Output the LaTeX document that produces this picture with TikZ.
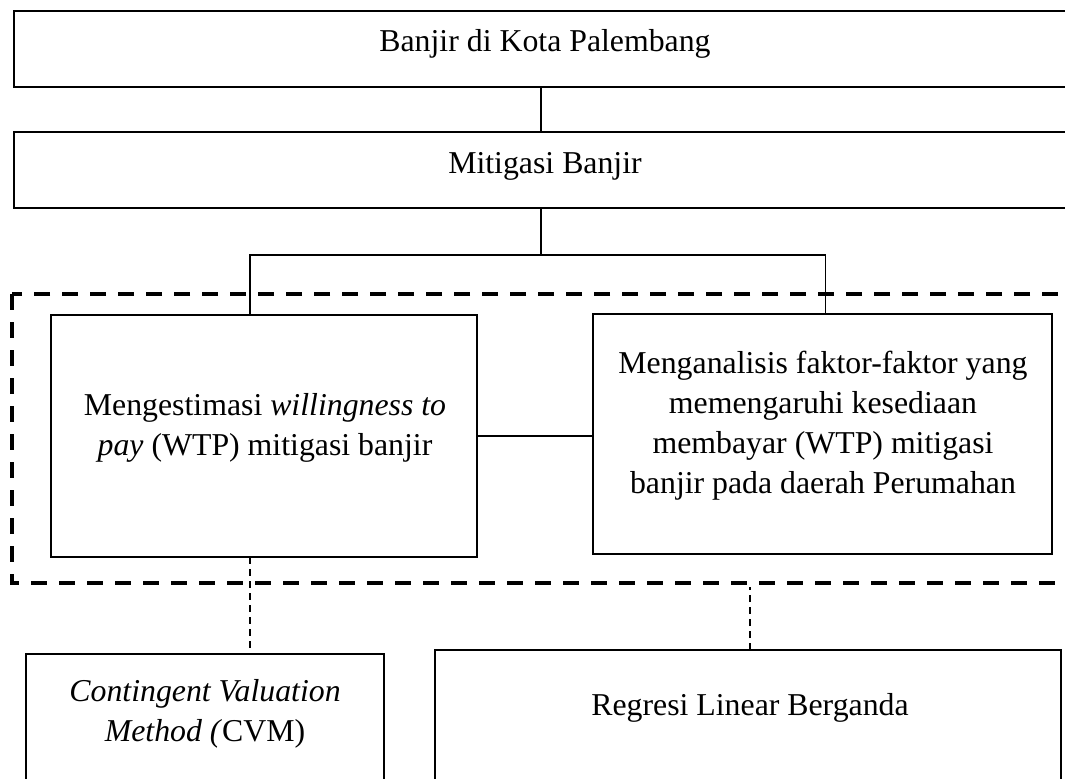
\documentclass[tikz,border=0pt]{standalone}
\usepackage{fontspec}
\setmainfont{Liberation Serif}
\begin{document}
\begin{tikzpicture}[x=0.5pt, y=-0.5pt,
  box/.style={draw, line width=1pt, rectangle, inner sep=0pt, outer sep=0pt},
  txt/.style={font=\fontsize{15.9}{20}\selectfont, align=center, inner sep=0pt},
  link/.style={line width=0.9pt},
  hint/.style={line width=0.75pt, dash pattern=on 3.5pt off 2.5pt},
  groupframe/.style={line width=2pt, dash pattern=on 8pt off 6pt}]
  % page of 1065 x 778 px, one unit is one pixel
  \useasboundingbox (0,0) rectangle (1065,778);
  \clip (0,0) rectangle (1065,778);
  % top boxes run past the right edge
  \node[box, minimum width=527pt, minimum height=38pt] (banjir) at (541,48.5) {};
  \node[txt] (banjirtxt) at (545,44) {Banjir di Kota Palembang};
  \node[box, minimum width=527pt, minimum height=38pt] (mitigasi) at (541,170) {};
  \node[txt] (mitigasitxt) at (545,166.5) {Mitigasi Banjir};
  % the two aims
  \node[box, minimum width=213pt, minimum height=121pt] (wtp) at (264,436) {};
  \node[txt] (wtptxt) at (265,427.5) {Mengestimasi \textit{willingness to}\\\textit{pay} (WTP) mitigasi banjir};
  \node[box, minimum width=229.5pt, minimum height=120pt] (faktor) at (822.5,434) {};
  \node[txt] (faktortxt) at (823,425.5) {Menganalisis faktor-faktor yang\\memengaruhi kesediaan\\membayar (WTP) mitigasi\\banjir pada daerah Perumahan};
  % methods, cut by the bottom edge
  \node[box, anchor=north, minimum width=179pt, minimum height=150pt] (cvm) at (205,654) {};
  \node[txt] (cvmtxt) at (205,714) {\textit{Contingent Valuation}\\\textit{Method (}CVM)};
  \node[box, anchor=north, minimum width=313pt, minimum height=150pt] (regresi) at (748,650) {};
  \node[txt] (regresitxt) at (750,707.5) {Regresi Linear Berganda};
  % connectors
  \draw[link] (banjir.south) -- (mitigasi.north);
  \draw[link] (mitigasi.south) -- ++(0,47) coordinate (split);
  \draw[link] ([xshift=-7pt]wtp.north) |- (split) -| ([xshift=1.5pt]faktor.north);
  \draw[link] (wtp.east) -- (wtp.east -| faktor.west);
  % dashed frame round the aims
  \coordinate (gnw) at (12,294);
  \coordinate (gse) at (1100,583);
  \draw[groupframe] (gnw) rectangle (gse);
  \draw[hint] ([xshift=-7pt]wtp.south) -- ++(0,97);
  \draw[hint] ([xshift=1pt]regresi.north) -- ++(0,-63);
\end{tikzpicture}
\end{document}
